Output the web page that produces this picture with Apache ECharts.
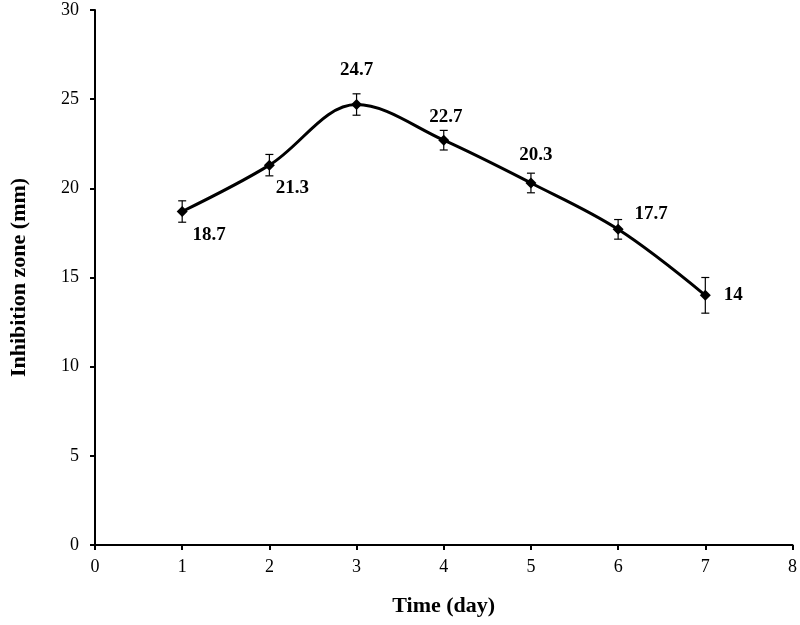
<!DOCTYPE html>
<html><head><meta charset="utf-8">
<script src="https://cdn.jsdelivr.net/npm/echarts@6/dist/echarts.min.js"></script>
<style>html,body{margin:0;padding:0;background:#fff}#c{width:800px;height:625px}</style>
</head><body><div id="c"></div>
<script>
const days = [1, 2, 3, 4, 5, 6, 7];
const zone = [18.7, 21.3, 24.7, 22.7, 20.3, 17.7, 14];
const errs = [0.6, 0.6, 0.6, 0.55, 0.55, 0.55, 1.0];
const labelLabels = ['18.7', '21.3', '24.7', '22.7', '20.3', '17.7', '14'];
const labelOffsets = [[27, 24], [23, 23], [0, -34], [2, -23], [5, -28], [33, -15], [28, 0]];

const font = 'Liberation Serif';
const chart = echarts.init(document.getElementById('c'));
chart.setOption({
  backgroundColor: '#fff',
  animation: false,
  grid: {left: 92, right: 6, top: 10, bottom: 80},
  xAxis: {
    type: 'value', min: 0, max: 8, interval: 1,
    name: 'Time (day)', nameLocation: 'middle', nameGap: 50,
    nameTextStyle: {fontFamily: font, fontWeight: 'bold', fontSize: 22, color: '#000'},
    axisLine: {lineStyle: {color: '#000', width: 2}},
    axisTick: {show: true, length: 5, lineStyle: {color: '#000', width: 2}},
    axisLabel: {fontFamily: font, fontSize: 18, color: '#000', margin: 13},
    splitLine: {show: false}
  },
  yAxis: {
    type: 'value', min: 0, max: 30, interval: 5,
    name: 'Inhibition zone (mm)', nameLocation: 'middle', nameGap: 65,
    nameTextStyle: {fontFamily: font, fontWeight: 'bold', fontSize: 22, color: '#000'},
    axisLine: {show: true, lineStyle: {color: '#000', width: 2}},
    axisTick: {show: true, length: 5, lineStyle: {color: '#000', width: 2}},
    axisLabel: {fontFamily: font, fontSize: 18, color: '#000', margin: 16},
    splitLine: {show: false}
  },
  series: [
    {
      type: 'line',
      smooth: 0.35,
      data: days.map((d, i) => ({
        value: [d, zone[i]],
        label: {show: true, formatter: labelLabels[i], position: 'inside', offset: labelOffsets[i]}
      })),
      symbol: 'diamond', symbolSize: 11,
      itemStyle: {color: '#000'},
      lineStyle: {color: '#000', width: 3},
      label: {fontFamily: font, fontWeight: 'bold', fontSize: 19, color: '#000'},
      z: 3
    },
    {
      type: 'custom',
      data: days.map((d, i) => [d, zone[i] - errs[i], zone[i] + errs[i]]),
      renderItem: function (params, api) {
        const x = api.value(0);
        const lo = api.coord([x, api.value(1)]);
        const hi = api.coord([x, api.value(2)]);
        const w = 4;
        const st = {stroke: '#000', lineWidth: 1.2};
        return {type: 'group', children: [
          {type: 'line', shape: {x1: lo[0], y1: lo[1], x2: hi[0], y2: hi[1]}, style: st},
          {type: 'line', shape: {x1: lo[0] - w, y1: lo[1], x2: lo[0] + w, y2: lo[1]}, style: st},
          {type: 'line', shape: {x1: hi[0] - w, y1: hi[1], x2: hi[0] + w, y2: hi[1]}, style: st}
        ]};
      },
      z: 2
    }
  ]
});
</script></body></html>
